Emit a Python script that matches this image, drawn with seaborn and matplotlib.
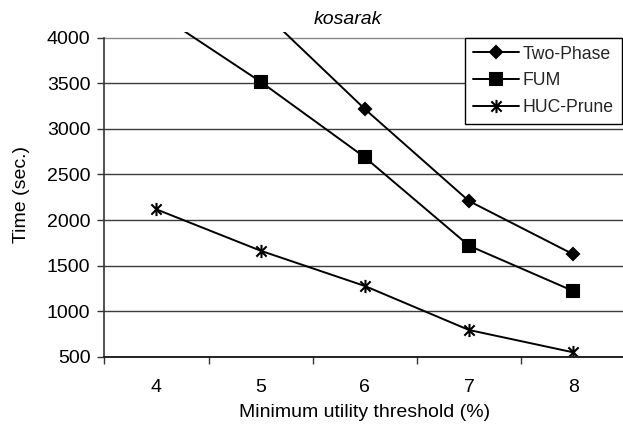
import matplotlib
matplotlib.use("Agg")
import matplotlib.pyplot as plt
from matplotlib.ticker import FixedLocator, NullFormatter
from matplotlib.path import Path
import seaborn as sns
import pandas as pd

# Runtime (seconds) on the kosarak dataset for each minimum utility threshold (%)
thresholds = [4, 5, 6, 7, 8]
two_phase = [5100, 4310, 3218, 2208, 1624]
fum = [4275, 3517, 2688, 1718, 1221]
huc_prune = [2117, 1663, 1276, 793, 548]
series_names = ["Two-Phase", "FUM", "HUC-Prune"]
y_ticks = [500, 1000, 1500, 2000, 2500, 3000, 3500, 4000]

df = pd.DataFrame({
    "threshold": thresholds * 3,
    "time": two_phase + fum + huc_prune,
    "algorithm": [n for n in series_names for _ in thresholds],
})

sns.set_theme(style="white")
plt.rcParams["font.family"] = ["Liberation Sans", "DejaVu Sans"]

W, H = 623, 425
fig = plt.figure(figsize=(W / 100, H / 100), dpi=100)
ax_left, ax_bottom, ax_right, ax_top = 104.3, H - 356.7, 625.3, H - 32.0
ax = fig.add_axes([ax_left / W, ax_bottom / H, (ax_right - ax_left) / W, (ax_top - ax_bottom) / H])

sns.lineplot(
    data=df, x="threshold", y="time", hue="algorithm", style="algorithm",
    hue_order=series_names, style_order=series_names,
    palette=["black"] * 3, markers={"Two-Phase": "D", "FUM": "s", "HUC-Prune": "X"},
    dashes=False, legend=False, linewidth=1.4, ax=ax,
)

# asterisk made of a vertical stroke and an X
d = 0.78
asterisk = Path(
    [(0, -1), (0, 1), (-d, -d), (d, d), (-d, d), (d, -d)],
    [Path.MOVETO, Path.LINETO, Path.MOVETO, Path.LINETO, Path.MOVETO, Path.LINETO],
)
marker_styles = {"Two-Phase": ("D", 6.3), "FUM": ("s", 8.8), "HUC-Prune": (asterisk, 9.5)}
for line, name in zip(ax.lines[:3], series_names):
    mk, ms = marker_styles[name]
    line.set_marker(mk)
    line.set_markersize(ms)
    line.set_color("black")
    line.set_markerfacecolor("black")
    line.set_markeredgecolor("black")
    line.set_markeredgewidth(1.5)

ax.set_xlim(3.5, 8.5)
ax.set_ylim(500, 4063)

# y axis
ax.yaxis.set_major_locator(FixedLocator(y_ticks))
ax.set_yticklabels([str(v) for v in y_ticks])
ax.tick_params(axis="y", which="major", direction="out", length=5, width=1.0,
               color="#333333", pad=5, labelsize=14, labelcolor="black", left=True)

# x axis: labels at categories, tick marks between categories
ax.xaxis.set_major_locator(FixedLocator(thresholds))
ax.set_xticklabels([str(t) for t in thresholds])
ax.xaxis.set_minor_locator(FixedLocator([t - 0.5 for t in thresholds] + [thresholds[-1] + 0.5]))
ax.xaxis.set_minor_formatter(NullFormatter())
ax.tick_params(axis="x", which="major", length=0, pad=16, labelsize=14, labelcolor="black")
ax.tick_params(axis="x", which="minor", direction="out", length=5, width=1.0,
               color="#333333", bottom=True)

# horizontal gridlines
ax.yaxis.grid(True, color="#3c3c3c", linewidth=1.0)
ax.xaxis.grid(False)
grid_lines = ax.yaxis.get_gridlines()
grid_lines[-1].set_color("#8a8a8a")
ax.set_axisbelow(True)

for side in ("top", "right"):
    ax.spines[side].set_visible(False)
ax.spines["left"].set_bounds(500, 4000)
ax.spines["left"].set_color("#333333")
ax.spines["left"].set_linewidth(1.2)
ax.spines["bottom"].set_color("#222222")
ax.spines["bottom"].set_linewidth(1.4)

ax.set_xlabel("Minimum utility threshold (%)", fontsize=14, color="black", labelpad=6)
ax.set_ylabel("Time (sec.)", fontsize=14, color="black", labelpad=12)

fig.text(347.5 / W, 1 - 19.5 / H, "kosarak", fontsize=14, style="italic",
         ha="center", va="center", color="black")

leg = ax.legend(
    ax.lines[:3], series_names,
    loc="upper right", bbox_to_anchor=(621.5 / W, 1 - 37.7 / H), bbox_transform=fig.transFigure,
    fontsize=12.7, frameon=True, fancybox=False, framealpha=1.0, edgecolor="black",
    handlelength=2.6, handletextpad=0.2, labelspacing=0.55, borderpad=0.45, borderaxespad=0,
)
leg.get_frame().set_linewidth(1.0)

fig.savefig("out.png", dpi=100)
